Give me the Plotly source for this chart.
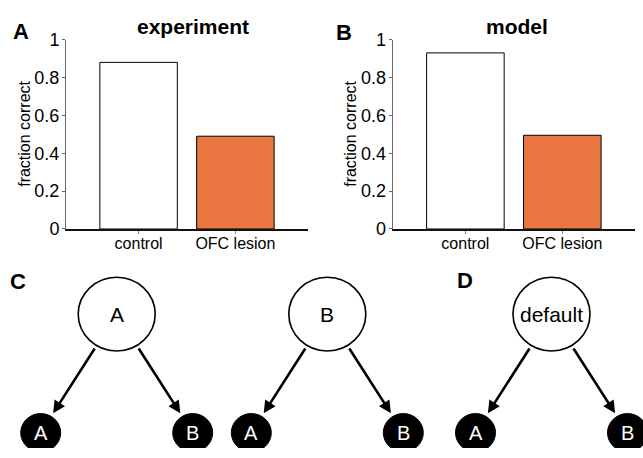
import plotly.graph_objects as go

# ---------------- data ----------------
conditions = ["control", "OFC lesion"]
experiment_frac = [0.88, 0.49]
model_frac = [0.93, 0.495]
bar_colors = ["#ffffff", "#E97641"]
y_tick_vals = [0, 0.2, 0.4, 0.6, 0.8, 1]
y_tick_text = ["0", "0.2", "0.4", "0.6", "0.8", "1"]

tree_roots = ["A", "B", "default"]
tree_children = [["A", "B"], ["A", "B"], ["A", "B"]]

# ---------------- layout constants (pixels) ----------------
W, H = 643, 458
FONT = "Liberation Sans, Arial, Helvetica, sans-serif"

fig = go.Figure()

bar_line = dict(color="black", width=1)
fig.add_trace(go.Bar(x=conditions, y=experiment_frac, width=0.8,
                     marker=dict(color=bar_colors, line=bar_line),
                     xaxis="x", yaxis="y", showlegend=False, hoverinfo="x+y"))
fig.add_trace(go.Bar(x=conditions, y=model_frac, width=0.8,
                     marker=dict(color=bar_colors, line=bar_line),
                     xaxis="x2", yaxis="y2", showlegend=False, hoverinfo="x+y"))
# invisible trace to activate full-figure pixel axes for the diagrams
fig.add_trace(go.Scatter(x=[0], y=[0], mode="markers", marker=dict(opacity=0),
                         xaxis="x3", yaxis="y3", showlegend=False, hoverinfo="skip"))


def xax(domain, anchor):
    return dict(domain=domain, anchor=anchor, range=[-0.75, 1.75],
                showline=True, linecolor="#111111", linewidth=1.6,
                ticks="outside", ticklen=3, tickwidth=1, tickcolor="#888888",
                tickfont=dict(size=16, color="black"), ticklabelstandoff=-4,
                showgrid=False, zeroline=False, fixedrange=True)


def yax(anchor):
    return dict(domain=[1 - 229 / H, 1 - 31 / H], anchor=anchor, range=[0, 1],
                tickvals=y_tick_vals, ticktext=y_tick_text,
                showline=True, linecolor="#666666", linewidth=1,
                ticks="outside", ticklen=3, tickwidth=1, tickcolor="#666666",
                tickfont=dict(size=18, color="black"), ticklabelstandoff=-1,
                showgrid=False, zeroline=False, fixedrange=True)


fig.update_layout(
    width=W, height=H,
    margin=dict(l=0, r=0, t=0, b=0),
    paper_bgcolor="white", plot_bgcolor="rgba(0,0,0,0)",
    font=dict(family=FONT, color="black"),
    xaxis=xax([66 / W, 308 / W], "y"),
    yaxis=yax("x"),
    xaxis2=xax([392.7 / W, 635 / W], "y2"),
    yaxis2=yax("x2"),
    xaxis3=dict(domain=[0, 1], anchor="y3", range=[0, W], visible=False, fixedrange=True),
    yaxis3=dict(domain=[0, 1], anchor="x3", range=[H, 0], visible=False, fixedrange=True),
    bargap=0.2,
)

# ---------------- titles / labels ----------------
def txt(x, y, s, size, bold=False, angle=0, color="black"):
    fig.add_annotation(x=x, y=y, xref="x3", yref="y3", text=("<b>%s</b>" % s) if bold else s,
                       showarrow=False, textangle=angle,
                       font=dict(size=size, color=color, family=FONT),
                       xanchor="center", yanchor="middle")


txt(192.5, 17.5, "experiment", 21, bold=True)
txt(516.7, 17.5, "model", 21, bold=True)
txt(20.5, 22.5, "A", 22, bold=True)
txt(344, 23, "B", 22, bold=True)
txt(18, 284, "C", 22, bold=True)
txt(465, 283, "D", 22, bold=True)
txt(24.5, 130, "fraction correct", 16, angle=-90)
txt(350.5, 130, "fraction correct", 16, angle=-90)

# ---------------- tree diagrams ----------------
tree_cx = [116.7, 327.3, 551.5]
root_y, child_y = 318, 442
child_dx = 76
R_BIG, R_SMALL = 38.5, 20

for cx, root, kids in zip(tree_cx, tree_roots, tree_children):
    child_xs = [cx - child_dx, cx + child_dx]
    for kx, kid in zip(child_xs, kids):
        fig.add_annotation(x=kx, y=child_y, ax=cx, ay=root_y,
                           xref="x3", yref="y3", axref="x3", ayref="y3",
                           text="", showarrow=True, arrowhead=2, arrowsize=0.95,
                           arrowwidth=2.6, arrowcolor="black",
                           standoff=23, startstandoff=39)
        fig.add_shape(type="circle", xref="x3", yref="y3",
                      x0=kx - R_SMALL, x1=kx + R_SMALL,
                      y0=child_y - R_SMALL, y1=child_y + R_SMALL,
                      fillcolor="black", line=dict(color="black", width=1))
        txt(kx, child_y, kid, 20, color="white")
    fig.add_shape(type="circle", xref="x3", yref="y3",
                  x0=cx - R_BIG, x1=cx + R_BIG,
                  y0=root_y - R_BIG, y1=root_y + R_BIG,
                  fillcolor="white", line=dict(color="black", width=1.6))
    txt(cx, root_y, root, 21)

fig.write_html("out.html", config={"displayModeBar": False},
               post_script="document.body.style.margin='0px';document.body.style.overflow='hidden';")
